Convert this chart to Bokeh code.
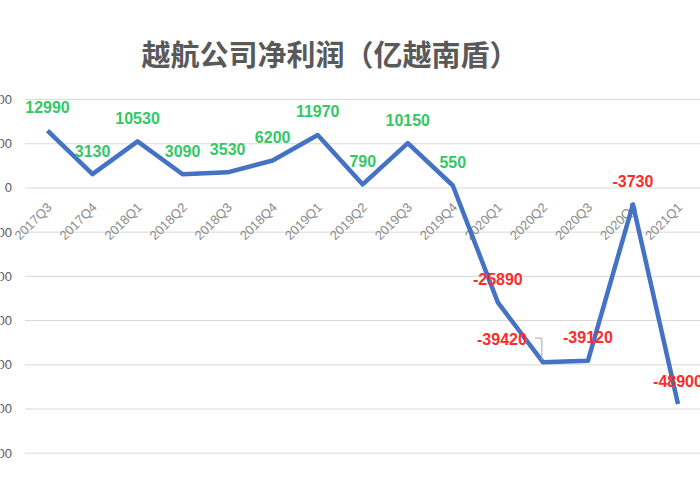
from bokeh.plotting import figure
from bokeh.models import Range1d, ColumnDataSource
from bokeh.core.properties import value
from bokeh.embed import file_html
from bokeh.resources import INLINE

title_text = "越航公司净利润（亿越南盾）"
quarters = ["2017Q3", "2017Q4", "2018Q1", "2018Q2", "2018Q3", "2018Q4",
            "2019Q1", "2019Q2", "2019Q3", "2019Q4", "2020Q1", "2020Q2",
            "2020Q3", "2020Q4", "2021Q1"]
profit = [12990, 3130, 10530, 3090, 3530, 6200, 11970, 790, 10150, 550,
          -25890, -39420, -39120, -3730, -48900]
y_ticks = [20000, 10000, 0, -10000, -20000, -30000, -40000, -50000, -60000]
y_tick_labels = ["20000", "10000", "0", "-10000", "-20000", "-30000",
                 "-40000", "-50000", "-60000"]

# pixel scales (frame geometry)
PX_X = 45.07          # px per category
PX_Y = 0.0044125      # px per unit value
X0 = -1.0436

p = figure(width=700, height=500, output_backend="svg", toolbar_location=None,
           x_range=Range1d(X0, 14.5), y_range=Range1d(-70708, 24306),
           min_border_left=0, min_border_right=0, min_border_bottom=0,
           min_border_top=80, title=title_text)
p.axis.visible = False
p.grid.visible = False
p.outline_line_color = None
p.background_fill_color = "white"
p.border_fill_color = "white"

p.title.text_font = "Noto Sans CJK SC"
p.title.text_font_size = "29px"
p.title.text_font_style = "bold"
p.title.text_color = "#595959"
p.title.align = "left"
p.title.offset = 141
p.title.standoff = 13

idx = list(range(len(quarters)))

# gridlines
p.segment(x0=[-0.5] * len(y_ticks), x1=[14.5] * len(y_ticks), y0=y_ticks, y1=y_ticks,
          line_color="#d9d9d9", line_width=1)

# y tick labels (cut by the left edge like the reference)
p.text(x=[X0 + 11.5 / PX_X] * len(y_ticks), y=y_ticks, text=y_tick_labels,
       text_align="right", text_baseline="middle", text_font_size="13px",
       text_font=value("Liberation Sans"), text_color="#595959")

# category labels at the zero line, rotated
p.text(x=[i + 2 / PX_X for i in idx], y=[-17 / PX_Y] * len(idx), text=quarters,
       angle=0.7854, text_align="right", text_baseline="middle",
       text_font_size="13px", text_font=value("Liberation Sans"),
       text_color="#8c8c8c")

# line
p.line(x=idx, y=profit, line_color="#4472c4", line_width=4.5, line_join="round")

# data labels
shift = {11: -41}
lab_x = [i + shift.get(i, 0) / PX_X for i in idx]
lab_y = [v + 23.5 / PX_Y for v in profit]
colors = ["#33c866" if v > 0 else "#ff2b2b" for v in profit]
src = ColumnDataSource(dict(x=lab_x, y=lab_y, t=[str(v) for v in profit], c=colors))
p.text(x="x", y="y", text="t", text_color="c", source=src, text_align="center",
       text_baseline="middle", text_font_size="16px", text_font_style="bold",
       text_font=value("Liberation Sans"))

# leader line for the moved label
k = 11
v = profit[k]
p.line(x=[k - 8 / PX_X, k - 1 / PX_X, k - 1 / PX_X],
       y=[v + 24 / PX_Y, v + 24 / PX_Y, v + 2 / PX_Y],
       line_color="#a6a6a6", line_width=1)

open("out.html", "w").write(file_html(p, INLINE))
